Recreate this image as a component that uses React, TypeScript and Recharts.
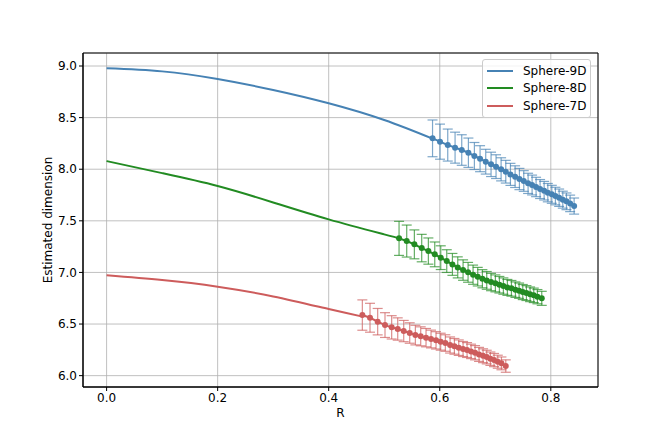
import {
  CartesianGrid,
  ComposedChart,
  ErrorBar,
  Legend,
  Line,
  ReferenceArea,
  Scatter,
  XAxis,
  YAxis,
} from "recharts";

const curveR9 = [0, 0.1, 0.2, 0.3, 0.4, 0.5, 0.587];
const curveV9 = [8.978, 8.948, 8.874, 8.768, 8.639, 8.477, 8.296];
const curveR8 = [0, 0.1, 0.2, 0.3, 0.4, 0.5, 0.527];
const curveV8 = [8.079, 7.962, 7.837, 7.678, 7.514, 7.369, 7.33];
const curveR7 = [0, 0.1, 0.2, 0.3, 0.4, 0.461];
const curveV7 = [6.972, 6.926, 6.862, 6.767, 6.645, 6.572];

// sampled estimates with error bars
const r9 = [
  0.587, 0.6005, 0.6144, 0.6276, 0.6396, 0.6516, 0.6624, 0.6726, 0.6828, 0.6924,
  0.7014, 0.7105, 0.7189, 0.7273, 0.7357, 0.7435, 0.7513, 0.7591, 0.7663, 0.7735,
  0.7807, 0.788, 0.7946, 0.8018, 0.8083, 0.815, 0.8216, 0.8282, 0.8348, 0.842,
];
const v9 = [
  8.299, 8.267, 8.234, 8.209, 8.186, 8.16, 8.128, 8.102, 8.073, 8.047,
  8.025, 7.999, 7.976, 7.95, 7.928, 7.905, 7.886, 7.863, 7.847, 7.828,
  7.808, 7.792, 7.773, 7.757, 7.74, 7.724, 7.705, 7.689, 7.669, 7.643,
];
const e9 = [
  0.178, 0.17, 0.155, 0.15, 0.148, 0.142, 0.131, 0.126, 0.12, 0.118,
  0.115, 0.112, 0.11, 0.107, 0.105, 0.103, 0.1, 0.098, 0.096, 0.094,
  0.092, 0.09, 0.089, 0.087, 0.085, 0.084, 0.082, 0.081, 0.08, 0.078,
];

const r8 = [
  0.5267, 0.5405, 0.5543, 0.5675, 0.5795, 0.591, 0.6018, 0.6126, 0.6228, 0.6324,
  0.642, 0.651, 0.66, 0.6684, 0.6768, 0.6846, 0.6924, 0.7002, 0.7074, 0.7146,
  0.7218, 0.7291, 0.7363, 0.7429, 0.7495, 0.7561, 0.7627, 0.7693, 0.7759, 0.7837,
];
const v8 = [
  7.33, 7.304, 7.272, 7.236, 7.207, 7.175, 7.143, 7.11, 7.078, 7.049,
  7.023, 7.001, 6.978, 6.959, 6.939, 6.923, 6.907, 6.894, 6.881, 6.868,
  6.855, 6.846, 6.833, 6.823, 6.81, 6.8, 6.788, 6.778, 6.765, 6.749,
];
const e8 = [
  0.165, 0.155, 0.14, 0.133, 0.127, 0.12, 0.115, 0.11, 0.106, 0.102,
  0.099, 0.096, 0.093, 0.09, 0.088, 0.086, 0.084, 0.082, 0.08, 0.079,
  0.077, 0.076, 0.075, 0.074, 0.073, 0.072, 0.071, 0.07, 0.069, 0.068,
];

const r7 = [
  0.4606, 0.4744, 0.4882, 0.5014, 0.5134, 0.5243, 0.5351, 0.5459, 0.5561, 0.5657,
  0.5753, 0.5843, 0.5933, 0.6017, 0.6101, 0.6186, 0.6264, 0.6342, 0.642, 0.6492,
  0.6564, 0.6636, 0.6708, 0.678, 0.6846, 0.6912, 0.6978, 0.7045, 0.7111, 0.7189,
];
const v7 = [
  6.587, 6.561, 6.523, 6.49, 6.468, 6.452, 6.432, 6.413, 6.393, 6.381,
  6.368, 6.355, 6.342, 6.329, 6.316, 6.297, 6.284, 6.271, 6.258, 6.248,
  6.235, 6.222, 6.206, 6.193, 6.18, 6.164, 6.151, 6.135, 6.119, 6.093,
];
const e7 = [
  0.147, 0.14, 0.128, 0.12, 0.113, 0.108, 0.103, 0.099, 0.095, 0.092,
  0.089, 0.086, 0.084, 0.082, 0.08, 0.078, 0.076, 0.075, 0.073, 0.072,
  0.07, 0.069, 0.068, 0.067, 0.066, 0.065, 0.064, 0.063, 0.062, 0.06,
];

const xTicks = [0, 0.2, 0.4, 0.6, 0.8];
const yTicks = [6.0, 6.5, 7.0, 7.5, 8.0, 8.5, 9.0];
const xDomain = [-0.0425, 0.885];
const yDomain = [5.89, 9.126];

const toRows = (xs: number[], ys: number[], es?: number[]) =>
  xs.map((x, i) => ({ x, y: ys[i], err: es ? es[i] : 0 }));

const series = [
  {
    name: "Sphere-9D",
    color: "#4682b4",
    curve: toRows(curveR9, curveV9),
    points: toRows(r9, v9, e9),
  },
  {
    name: "Sphere-8D",
    color: "#228b22",
    curve: toRows(curveR8, curveV8),
    points: toRows(r8, v8, e8),
  },
  {
    name: "Sphere-7D",
    color: "#cd5c5c",
    curve: toRows(curveR7, curveV7),
    points: toRows(r7, v7, e7),
  },
];

const font = "'DejaVu Sans', sans-serif";
const tickStyle = { fill: "#000", fontSize: 12, fontFamily: font };

const renderLegend = () => (
  <div
    style={{
      boxSizing: "border-box",
      width: 109,
      background: "rgba(255,255,255,0.8)",
      border: "1px solid #cccccc",
      borderRadius: 3,
      padding: "2px 3px 2px 4px",
      fontFamily: font,
      fontSize: 12,
      color: "#000",
    }}
  >
    {series.map((s) => (
      <div key={s.name} style={{ display: "flex", alignItems: "center", height: 17.5 }}>
        <span style={{ width: 26, height: 2, background: s.color, marginRight: 10 }} />
        <span>{s.name}</span>
      </div>
    ))}
  </div>
);

const App = () => {
  return (
    <div style={{ position: "absolute", left: 0, top: 0, width: 664, height: 443, background: "#fff" }}>
      <ComposedChart
        width={664}
        height={443}
        margin={{ top: 53, right: 66, bottom: 16, left: 0 }}
        style={{ fontFamily: font }}
      >
        <CartesianGrid stroke="#b0b0b0" strokeWidth={0.8} />
        <XAxis
          type="number"
          dataKey="x"
          domain={xDomain}
          ticks={xTicks}
          allowDataOverflow
          height={40}
          tick={tickStyle}
          tickSize={4}
          tickMargin={2}
          tickLine={{ stroke: "#000" }}
          axisLine={{ stroke: "#000" }}
          tickFormatter={(v) => v.toFixed(1)}
          label={{ value: "R", position: "insideBottom", offset: 10, fill: "#000", fontSize: 12, fontFamily: font }}
        />
        <YAxis
          type="number"
          dataKey="y"
          domain={yDomain}
          ticks={yTicks}
          allowDataOverflow
          width={83}
          tick={tickStyle}
          tickSize={4}
          tickMargin={2}
          tickLine={{ stroke: "#000" }}
          axisLine={{ stroke: "#000" }}
          tickFormatter={(v) => v.toFixed(1)}
          label={{
            value: "Estimated dimension",
            angle: -90,
            position: "insideLeft",
            offset: 48,
            fill: "#000",
            fontSize: 12,
            fontFamily: font,
            style: { textAnchor: "middle" },
          }}
        />
        <ReferenceArea
          x1={xDomain[0]}
          x2={xDomain[1]}
          y1={yDomain[0]}
          y2={yDomain[1]}
          fill="none"
          stroke="#000"
          strokeWidth={1}
          fillOpacity={0}
        />
        {series.map((s) => (
          <Line
            key={s.name + "-curve"}
            data={s.curve}
            dataKey="y"
            type="natural"
            stroke={s.color}
            strokeWidth={2}
            dot={false}
            activeDot={false}
            isAnimationActive={false}
            legendType="none"
          />
        ))}
        {series.map((s) => (
          <Line
            key={s.name + "-joined"}
            data={s.points}
            dataKey="y"
            type="linear"
            stroke={s.color}
            strokeWidth={2}
            dot={false}
            activeDot={false}
            isAnimationActive={false}
            legendType="none"
          />
        ))}
        {series.map((s) => (
          <Scatter
            key={s.name + "-pts"}
            data={s.points}
            dataKey="y"
            fill={s.color}
            isAnimationActive={false}
            legendType="none"
            shape={(p: any) => <circle cx={p.cx} cy={p.cy} r={3} fill={s.color} />}
          >
            <ErrorBar
              dataKey="err"
              direction="y"
              width={5}
              stroke={s.color}
              strokeWidth={1.2}
              strokeOpacity={0.7}
              isAnimationActive={false}
            />
          </Scatter>
        ))}
        <Legend
          layout="vertical"
          align="center"
          verticalAlign="middle"
          content={renderLegend}
          wrapperStyle={{ left: 482, top: 59, width: 109, height: "auto" }}
        />
      </ComposedChart>
    </div>
  );
};

export default App;
